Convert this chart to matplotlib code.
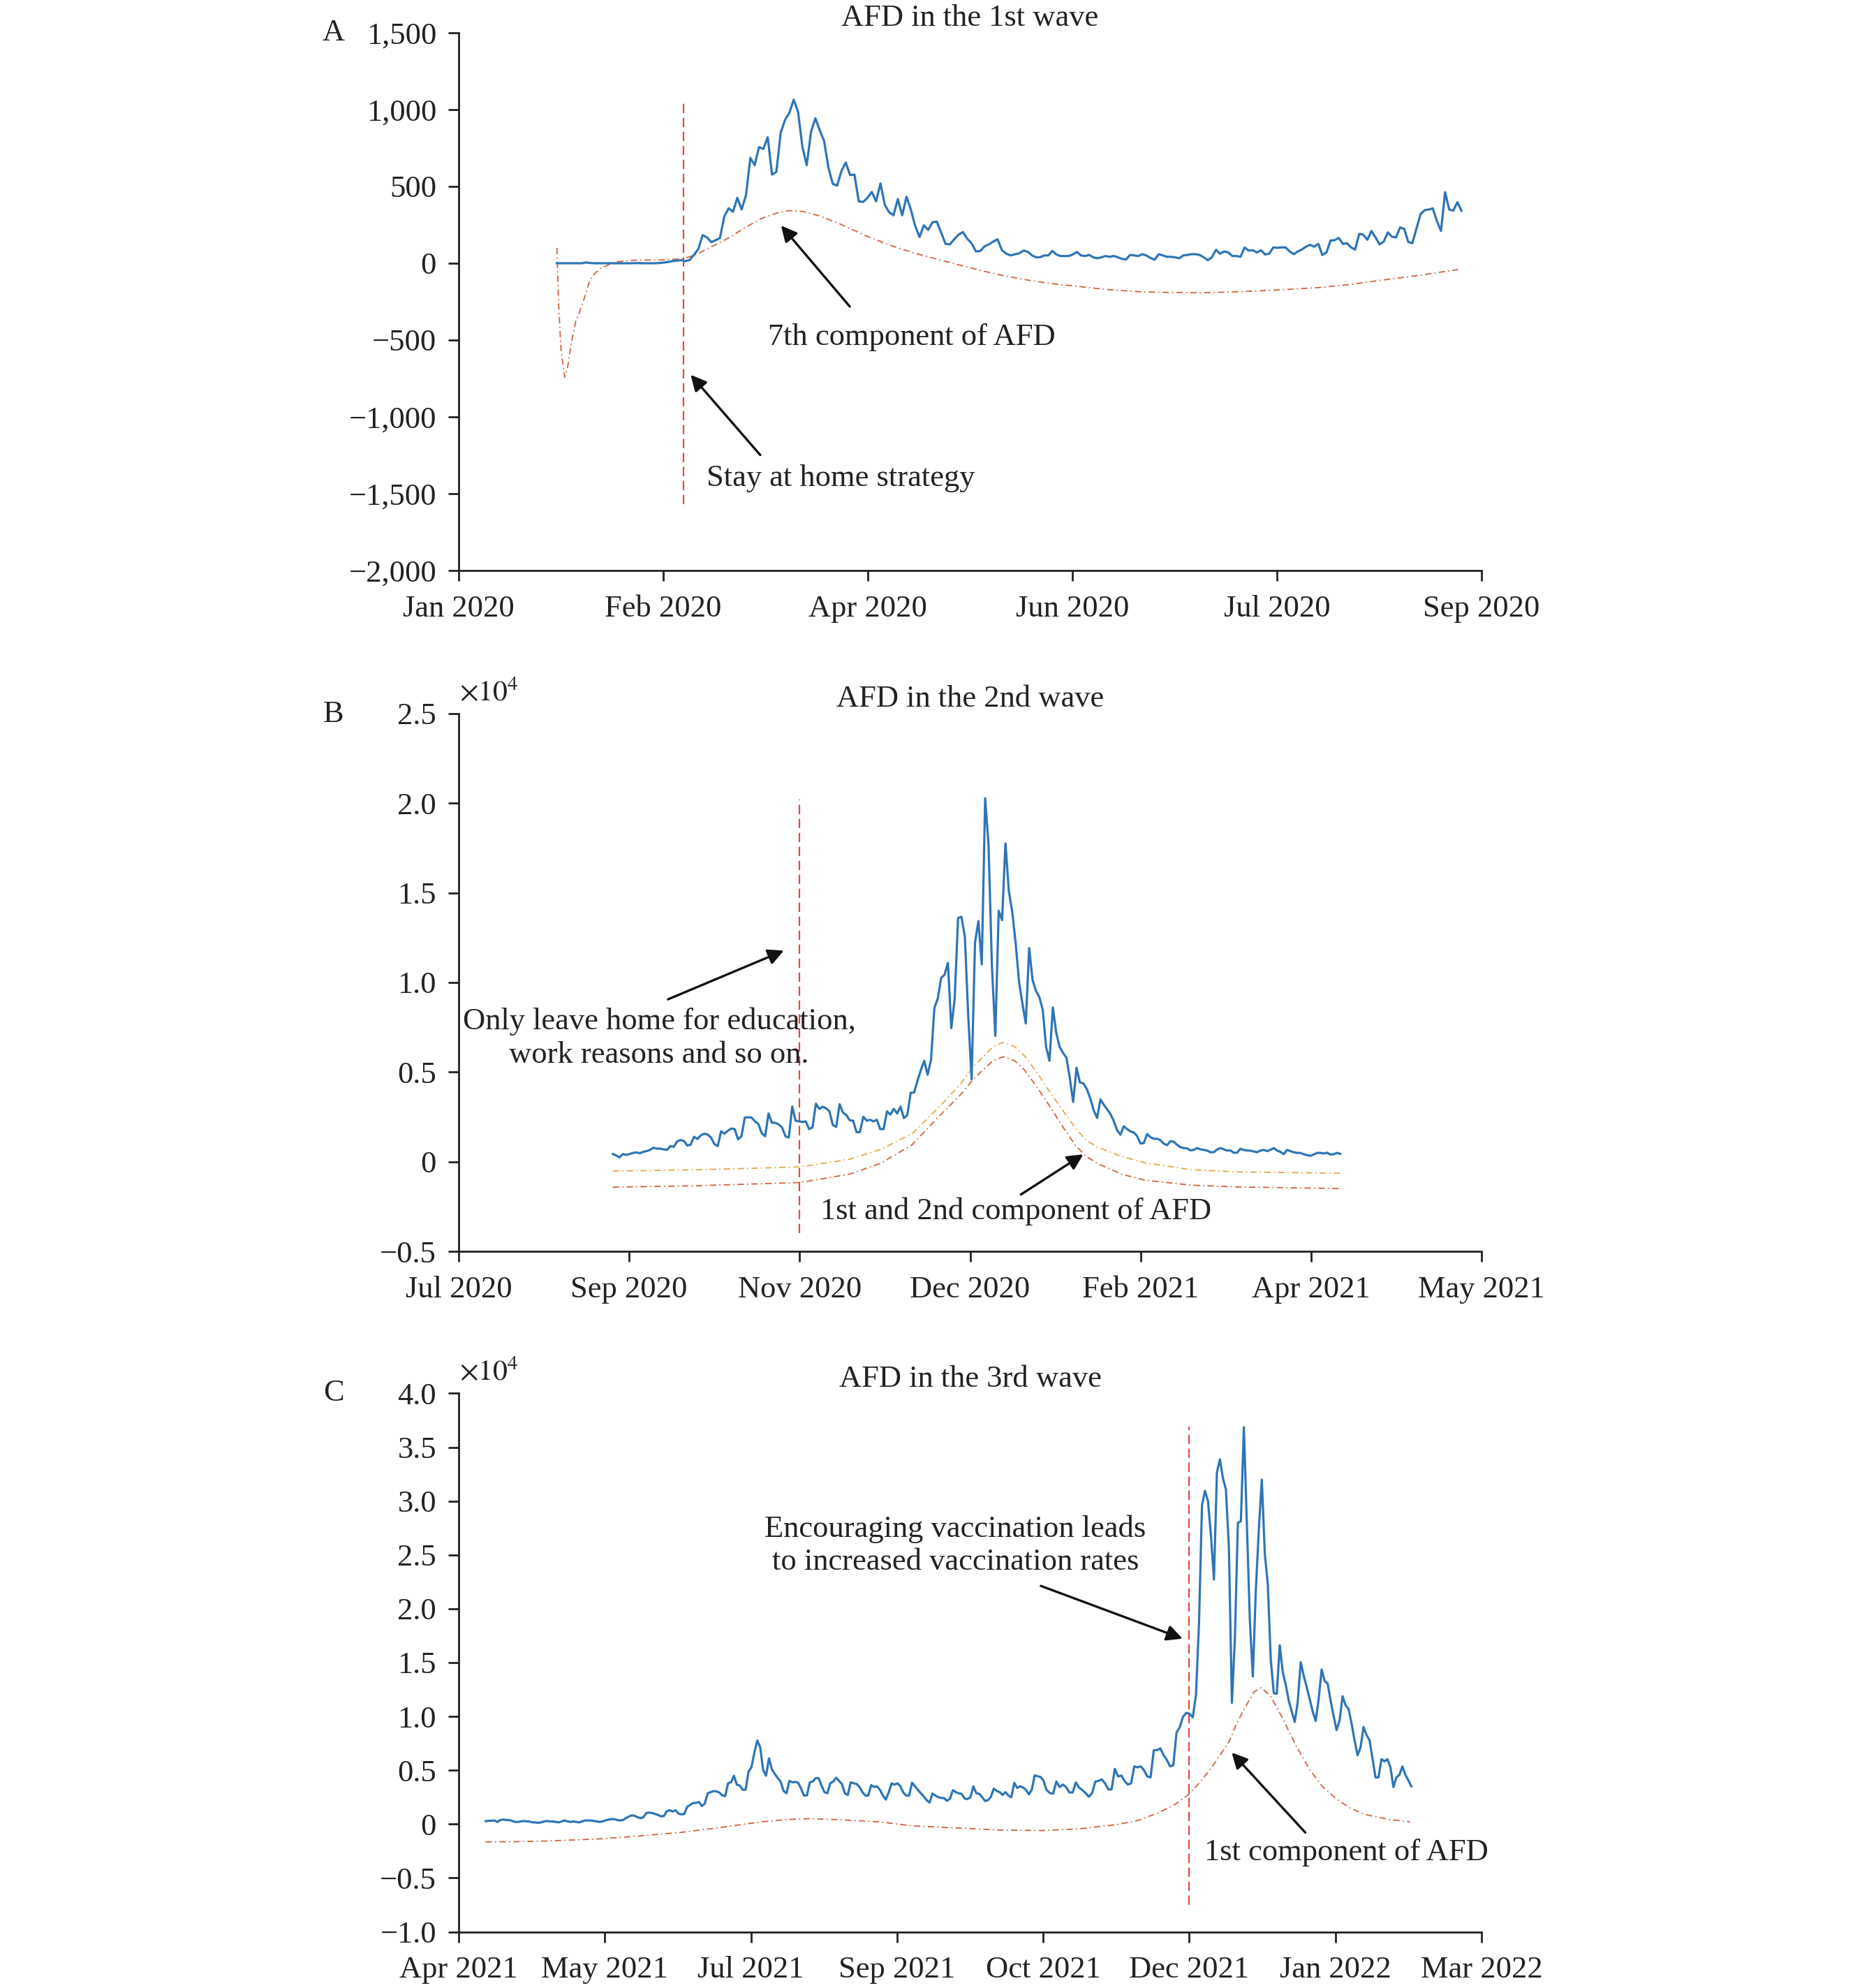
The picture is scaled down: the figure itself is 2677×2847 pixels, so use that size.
import numpy as np
import matplotlib
matplotlib.use('Agg')
import matplotlib.pyplot as plt

plt.rcParams['font.family'] = ['Liberation Serif', 'DejaVu Serif']
plt.rcParams['mathtext.fontset'] = 'stix'

# ---------------- Panel A data ----------------
a_title = 'AFD in the 1st wave'
a_xticks = [0, 50, 100, 150, 200, 250]
a_xlabels = ['Jan 2020', 'Feb 2020', 'Apr 2020', 'Jun 2020', 'Jul 2020', 'Sep 2020']
a_yticks = [1500, 1000, 500, 0, -500, -1000, -1500, -2000]
a_ylabels = ['1,500', '1,000', '500', '0', '\u2212500', '\u22121,000', '\u22121,500', '\u22122,000']

a_afd_flat = [0, 0, 0, 0, 0, 0, 0, 5, 2, 0, 0, 0, 0, 0, 0, 0, 0, 0, 0, 1, 1, 0, 0, 0, 0, 2, 5, 8]
a_afd_rise = [14, 17, 20, 14, 21, 55, 92, 183, 168, 138,
              150, 165, 305, 358, 335, 426, 350, 444, 686, 638,
              756, 744, 820, 577, 595, 850, 933, 979, 1065, 986,
              759, 638, 857, 944, 865, 797, 623, 517, 505, 600,
              656, 574, 577, 403, 399, 426, 464, 403, 520, 380,
              332, 312, 418, 312, 433, 350, 244, 171, 247, 217,
              267, 271, 199, 126, 123, 156, 186, 203, 160, 130,
              77, 80, 110, 123, 141, 156, 85, 62, 51, 58,
              65, 83, 74, 50]
a_afd_tail = [39, 39, 51, 51, 80, 57, 47, 47, 47, 57,
              74, 51, 47, 54, 39, 32, 39, 47, 42, 47,
              39, 29, 24, 54, 51, 47, 59, 50, 35, 23,
              59, 51, 42, 42, 39, 32, 51, 54, 59, 59,
              54, 39, 20, 39, 88, 62, 77, 70, 47, 47,
              42, 103, 82, 85, 70, 85, 57, 62, 103, 100,
              103, 103, 77, 59, 77, 89, 108, 120, 108, 126,
              54, 70, 148, 150, 165, 126, 130, 104, 89, 191,
              186, 153, 210, 168, 123, 141, 201, 173, 168, 233,
              224, 138, 130, 226, 320, 345, 350, 357, 274, 210,
              463, 350, 342, 398, 342]
a_afd_spans = [(24.0, 51.2), (52.2, 140.2), (141.1, 245.1)]

a_comp_day = [24.0, 24.4, 25.0, 25.9, 26.6, 27.5, 28.6, 29.5, 30.8, 32.1,
              33.5, 35.0, 38.3, 42.9, 50.0, 55.0, 57.9, 62.0, 66.2, 70.0,
              73.8, 77.5, 80.7, 84.0, 88.0, 92.9, 100.5, 106.0, 111.9, 120.0,
              127.1, 133.0, 139.6, 145.0, 151.2, 158.0, 165.9, 173.0, 180.7, 188.0,
              195.5, 203.0, 210.3, 218.0, 225.0, 235.0, 244.2]
a_comp_val = [100, -250, -560, -740, -680, -520, -380, -320, -220, -105,
              -60, -29, 9, 20, 22, 30, 55, 110, 168, 232,
              289, 325, 343, 338, 310, 259, 168, 112, 62, 5,
              -44, -80, -112, -133, -150, -170, -185, -190, -192, -188,
              -180, -170, -158, -138, -112, -78, -41]
a_event_day = 55

# ---------------- Panel B data (x 10^4) ----------------
b_title = 'AFD in the 2nd wave'
b_xticks = [0, 50, 100, 150, 200, 250, 300]
b_xlabels = ['Jul 2020', 'Sep 2020', 'Nov 2020', 'Dec 2020', 'Feb 2021', 'Apr 2021', 'May 2021']
b_yticks = [2.5, 2.0, 1.5, 1.0, 0.5, 0, -0.5]
b_ylabels = ['2.5', '2.0', '1.5', '1.0', '0.5', '0', '\u22120.5']

b_afd_main = [0.043, 0.035, 0.024, 0.043, 0.038, 0.043, 0.049, 0.052, 0.047, 0.055,
              0.059, 0.066, 0.078, 0.073, 0.073, 0.069, 0.066, 0.087, 0.083, 0.113,
              0.121, 0.116, 0.090, 0.095, 0.139, 0.127, 0.147, 0.156, 0.152, 0.135,
              0.099, 0.087, 0.170, 0.156, 0.173, 0.185, 0.182, 0.125, 0.142, 0.246,
              0.248, 0.246, 0.225, 0.211, 0.159, 0.142, 0.269, 0.217, 0.217, 0.208,
              0.191, 0.142, 0.135, 0.308, 0.229, 0.225, 0.222, 0.225, 0.182, 0.191,
              0.324, 0.295, 0.307, 0.298, 0.281, 0.205, 0.194, 0.321, 0.274, 0.260,
              0.231, 0.229, 0.165, 0.165, 0.251, 0.229, 0.234, 0.225, 0.234, 0.182,
              0.182, 0.281, 0.263, 0.295, 0.269, 0.307, 0.243, 0.260, 0.385, 0.386,
              0.451, 0.511, 0.563, 0.485, 0.568, 0.858, 0.910, 1.026, 1.043, 1.109,
              0.745, 0.910, 1.360, 1.366, 1.256, 0.815, 0.459, 1.222, 1.343, 1.101,
              2.028, 1.768, 1.092, 0.702, 1.400, 1.348, 1.776, 1.508, 1.395, 1.222,
              1.005, 0.884, 0.771, 1.192, 1.014, 0.953, 0.919, 0.849, 0.641, 0.563,
              0.861, 0.719, 0.641, 0.607, 0.581, 0.468, 0.333, 0.524, 0.442, 0.437,
              0.407]
b_afd_tail = [0.350, 0.286, 0.244, 0.348, 0.318, 0.292, 0.266, 0.227, 0.176, 0.150,
              0.198, 0.182, 0.169, 0.163, 0.143, 0.102, 0.104, 0.154, 0.137, 0.128,
              0.128, 0.120, 0.101, 0.092, 0.115, 0.111, 0.094, 0.081, 0.076, 0.075,
              0.063, 0.066, 0.076, 0.069, 0.066, 0.062, 0.053, 0.053, 0.068, 0.076,
              0.069, 0.062, 0.063, 0.050, 0.050, 0.072, 0.066, 0.062, 0.062, 0.057,
              0.053, 0.062, 0.066, 0.059, 0.066, 0.076, 0.062, 0.055, 0.042, 0.066,
              0.059, 0.053, 0.049, 0.049, 0.042, 0.037, 0.033, 0.040, 0.049, 0.049,
              0.046, 0.050, 0.040, 0.042, 0.049, 0.044]
b_afd_spans = [(45.2, 184.2), (185.3, 258.6)]

b_comp_day = [45.2, 70, 100.2, 114.7, 123.8, 133, 142.1, 147, 151.3, 156.7,
              159.8, 163.1, 166, 169.5, 173, 177, 180.8, 184, 187.6, 194.5,
              201.3, 214.9, 228.6, 258.9]
b_comp_upper = [-0.052, -0.045, -0.029, 0.014, 0.069, 0.156, 0.329, 0.43, 0.537, 0.641,
                0.667, 0.641, 0.59, 0.50, 0.40, 0.29, 0.19, 0.12, 0.079, 0.029,
                -0.006, -0.045, -0.057, -0.064]
b_comp_lower = [-0.142, -0.134, -0.116, -0.069, -0.009, 0.095, 0.277, 0.37, 0.468, 0.563,
                0.586, 0.563, 0.51, 0.42, 0.32, 0.20, 0.094, 0.03, -0.012, -0.07,
                -0.103, -0.131, -0.141, -0.15]
b_event_day = 100

# ---------------- Panel C data (x 10^4) ----------------
c_title = 'AFD in the 3rd wave'
c_xticks = [0, 50, 100, 150, 200, 250, 300, 350]
c_xlabels = ['Apr 2021', 'May 2021', 'Jul 2021', 'Sep 2021', 'Oct 2021', 'Dec 2021', 'Jan 2022', 'Mar 2022']
c_yticks = [4.0, 3.5, 3.0, 2.5, 2.0, 1.5, 1.0, 0.5, 0, -0.5, -1.0]
c_ylabels = ['4.0', '3.5', '3.0', '2.5', '2.0', '1.5', '1.0', '0.5', '0', '\u22120.5', '\u22121.0']

c_afd_main = [0.027, 0.031, 0.031, 0.034, 0.020, 0.038, 0.042, 0.038, 0.038, 0.031,
              0.020, 0.020, 0.025, 0.029, 0.025, 0.025, 0.016, 0.016, 0.012, 0.016,
              0.025, 0.029, 0.025, 0.025, 0.020, 0.016, 0.025, 0.034, 0.025, 0.020,
              0.025, 0.020, 0.016, 0.025, 0.034, 0.034, 0.034, 0.029, 0.025, 0.020,
              0.025, 0.034, 0.042, 0.046, 0.046, 0.038, 0.034, 0.038, 0.055, 0.070,
              0.081, 0.077, 0.064, 0.055, 0.064, 0.103, 0.107, 0.103, 0.094, 0.085,
              0.072, 0.075, 0.120, 0.129, 0.116, 0.129, 0.098, 0.090, 0.094, 0.161,
              0.178, 0.196, 0.196, 0.206, 0.168, 0.189, 0.286, 0.297, 0.306, 0.304,
              0.293, 0.267, 0.260, 0.379, 0.388, 0.449, 0.366, 0.358, 0.319, 0.319,
              0.487, 0.528, 0.665, 0.777, 0.712, 0.503, 0.449, 0.611, 0.509, 0.466,
              0.427, 0.395, 0.308, 0.286, 0.401, 0.388, 0.392, 0.384, 0.330, 0.265,
              0.267, 0.388, 0.395, 0.427, 0.427, 0.358, 0.297, 0.286, 0.379, 0.395,
              0.431, 0.401, 0.371, 0.286, 0.271, 0.388, 0.379, 0.373, 0.345, 0.297,
              0.265, 0.265, 0.362, 0.345, 0.351, 0.319, 0.265, 0.228, 0.293, 0.379,
              0.366, 0.379, 0.351, 0.293, 0.265, 0.265, 0.384, 0.351, 0.319, 0.286,
              0.258, 0.222, 0.200, 0.284, 0.265, 0.250, 0.243, 0.241, 0.215, 0.237,
              0.315, 0.297, 0.286, 0.280, 0.237, 0.232, 0.250, 0.351, 0.286, 0.282,
              0.250, 0.215, 0.222, 0.254, 0.330, 0.308, 0.297, 0.271, 0.297, 0.265,
              0.250, 0.384, 0.336, 0.351, 0.340, 0.319, 0.276, 0.319, 0.453, 0.444,
              0.438, 0.405, 0.319]
c_afd_pre = [0.288, 0.283, 0.395, 0.344, 0.367, 0.344, 0.294, 0.294, 0.387, 0.339,
             0.316, 0.288, 0.254, 0.288, 0.395, 0.401, 0.415, 0.378, 0.322, 0.322,
             0.513, 0.443, 0.451, 0.401, 0.367, 0.378, 0.536, 0.527, 0.536, 0.499,
             0.443, 0.434, 0.687, 0.687, 0.704, 0.640, 0.597, 0.536, 0.547, 0.851,
             0.901, 0.997, 1.033, 1.025, 0.991]
c_afd_peak = [1.202, 1.863, 2.960, 3.095, 3.002,
              2.678, 2.271, 3.269, 3.387, 3.213, 3.106, 2.566, 1.126, 1.722, 2.797,
              2.813, 3.685, 2.791, 1.891, 1.371, 2.172, 2.735, 3.199, 2.510, 2.228,
              1.525, 1.216, 1.210, 1.660, 1.413, 1.295, 1.146, 1.047, 0.949, 1.132,
              1.503, 1.379, 1.272, 1.160, 1.047, 0.957, 1.160, 1.435, 1.329, 1.306,
              1.146, 1.005, 0.873, 0.963, 1.188, 1.104, 1.070, 0.935, 0.780, 0.640,
              0.710, 0.901, 0.828, 0.780, 0.611, 0.434, 0.434, 0.603, 0.583, 0.603,
              0.527, 0.344, 0.434, 0.457, 0.536, 0.457, 0.406, 0.350]
c_afd_spans = [(9.25, 201.1), (202.3, 251.2), (252.3, 326.0)]

c_comp_day = [9.2, 20, 30.4, 48.3, 62, 75.7, 90, 103.2, 112, 119.6,
              130, 144.3, 155, 171.8, 185, 199.2, 212, 225, 232, 239,
              245, 250, 254, 258, 261, 263.7, 266, 268.4, 270.5, 272.2,
              274.6, 277.8, 281.6, 286.3, 291.1, 295.5, 300.5, 305, 310, 318,
              325.5]
c_comp_val = [-0.165, -0.163, -0.157, -0.137, -0.11, -0.078, -0.03, 0.02, 0.042, 0.05,
              0.042, 0.02, -0.016, -0.038, -0.055, -0.06, -0.045, -0.005, 0.03, 0.1,
              0.18, 0.28, 0.4, 0.54, 0.66, 0.77, 0.92, 1.05, 1.15, 1.23,
              1.267, 1.19, 1.0, 0.74, 0.51, 0.35, 0.23, 0.15, 0.09, 0.045,
              0.02]
c_event_day = 250

# ---------------- Styling ----------------
BLUE = '#2e75b6'
VLINE = '#dd4b45'
COMP_RED = '#d2623c'
COMP_GOLD = '#e3a948'
TXT = '#222222'
FS = 32
W_PX, H_PX = 2677, 2847

fig = plt.figure(figsize=(W_PX / 100, H_PX / 100), dpi=100)
left = 657 / W_PX
width = (2122 - 657) / W_PX


def axes_at(top_px, bottom_px):
    return fig.add_axes([left, 1 - bottom_px / H_PX, width, (bottom_px - top_px) / H_PX])


def style(ax, xlim, xticks, xlabels, ylim, yticks, ylabels):
    ax.set_xlim(*xlim)
    ax.set_ylim(*ylim)
    ax.set_xticks(xticks)
    ax.set_xticklabels(xlabels)
    ax.set_yticks(yticks)
    ax.set_yticklabels(ylabels)
    for s in ['top', 'right']:
        ax.spines[s].set_visible(False)
    for s in ['left', 'bottom']:
        ax.spines[s].set_linewidth(2.0)
        ax.spines[s].set_color(TXT)
    ax.tick_params(direction='out', length=11, width=2, labelsize=FS,
                   color=TXT, labelcolor=TXT)
    ax.tick_params(axis='x', pad=14)
    ax.tick_params(axis='y', pad=12)


def series_x(spans, parts):
    return np.concatenate([np.linspace(a, b, len(p)) for (a, b), p in zip(spans, parts)])


def arrow(ax, tail, tip):
    ax.annotate('', xy=tip, xytext=tail,
                arrowprops=dict(arrowstyle='-|>', color='#111111', lw=2.4,
                                mutation_scale=34, shrinkA=0, shrinkB=0))


comp_ls = (0, (5, 2.5, 1, 2.5))
vline_ls = (0, (6, 3))
xc = (657 + 2122) / 2 / W_PX

# ---- Panel A ----
axA = axes_at(47, 817)
style(axA, (0, 250), a_xticks, a_xlabels, (-2000, 1500), a_yticks, a_ylabels)
a_parts = [a_afd_flat, a_afd_rise, a_afd_tail]
axA.plot(series_x(a_afd_spans, a_parts), np.concatenate(a_parts), color=BLUE, lw=2.3, zorder=3)
axA.plot(a_comp_day, a_comp_val, color=COMP_RED, lw=1.3, linestyle=comp_ls, zorder=2)
axA.plot([a_event_day, a_event_day], [-1570, 1055], color=VLINE, lw=1.6, linestyle=vline_ls)
axA.text(75.6, -480, '7th component of AFD', fontsize=FS, color=TXT, ha='left', va='center')
arrow(axA, (95.6, -282), (78.8, 245))
axA.text(60.6, -1400, 'Stay at home strategy', fontsize=FS, color=TXT, ha='left', va='center')
arrow(axA, (73.7, -1248), (56.7, -726))
fig.text(xc, 1 - 26 / H_PX, a_title, fontsize=FS, color=TXT, ha='center', va='center')
fig.text(478 / W_PX, 1 - 47 / H_PX, 'A', fontsize=FS, color=TXT, ha='center', va='center')

# ---- Panel B ----
axB = axes_at(1022, 1792)
style(axB, (0, 300), b_xticks, b_xlabels, (-0.5, 2.5), b_yticks, b_ylabels)
b_parts = [b_afd_main, b_afd_tail]
axB.plot(series_x(b_afd_spans, b_parts), np.concatenate(b_parts), color=BLUE, lw=2.3, zorder=3)
axB.plot(b_comp_day, b_comp_upper, color=COMP_GOLD, lw=1.3, linestyle=comp_ls, zorder=2)
axB.plot(b_comp_day, b_comp_lower, color=COMP_RED, lw=1.3, linestyle=comp_ls, zorder=2)
axB.plot([b_event_day, b_event_day], [-0.4, 2.02], color=VLINE, lw=1.6, linestyle=vline_ls)
axB.text(58.8, 0.69, 'Only leave home for education,\nwork reasons and so on.', fontsize=FS,
         color=TXT, ha='center', va='center', multialignment='center', linespacing=1.25)
arrow(axB, (61.4, 0.906), (95.4, 1.178))
axB.text(163.4, -0.278, '1st and 2nd component of AFD', fontsize=FS, color=TXT, ha='center', va='center')
arrow(axB, (164.9, -0.183), (183.2, 0.041))
fig.text(xc, 1 - 1001 / H_PX, b_title, fontsize=FS, color=TXT, ha='center', va='center')
fig.text(478 / W_PX, 1 - 1023 / H_PX, 'B', fontsize=FS, color=TXT, ha='center', va='center')
fig.text(658 / W_PX, 1 - 1003 / H_PX, r'$\times10^{4}$', fontsize=30, color=TXT, ha='left', va='baseline')

# ---- Panel C ----
axC = axes_at(1995.4, 2766.5)
style(axC, (0, 350), c_xticks, c_xlabels, (-1.0, 4.0), c_yticks, c_ylabels)
c_parts = [c_afd_main, c_afd_pre, c_afd_peak]
axC.plot(series_x(c_afd_spans, c_parts), np.concatenate(c_parts), color=BLUE, lw=2.3, zorder=3)
axC.plot(c_comp_day, c_comp_val, color=COMP_RED, lw=1.3, linestyle=comp_ls, zorder=2)
axC.plot([c_event_day, c_event_day], [-0.75, 3.69], color=VLINE, lw=1.6, linestyle=vline_ls)
axC.text(170, 2.588, 'Encouraging vaccination leads\nto increased vaccination rates', fontsize=FS,
         color=TXT, ha='center', va='center', multialignment='center', linespacing=1.25)
arrow(axC, (199.2, 2.212), (247.7, 1.722))
axC.text(303.8, -0.267, '1st component of AFD', fontsize=FS, color=TXT, ha='center', va='center')
arrow(axC, (289.7, -0.078), (264.5, 0.665))
fig.text(xc, 1 - 1975 / H_PX, c_title, fontsize=FS, color=TXT, ha='center', va='center')
fig.text(478 / W_PX, 1 - 1995 / H_PX, 'C', fontsize=FS, color=TXT, ha='center', va='center')
fig.text(658 / W_PX, 1 - 1975.5 / H_PX, r'$\times10^{4}$', fontsize=30, color=TXT, ha='left', va='baseline')

fig.savefig('out.png', dpi=100, facecolor='white')
